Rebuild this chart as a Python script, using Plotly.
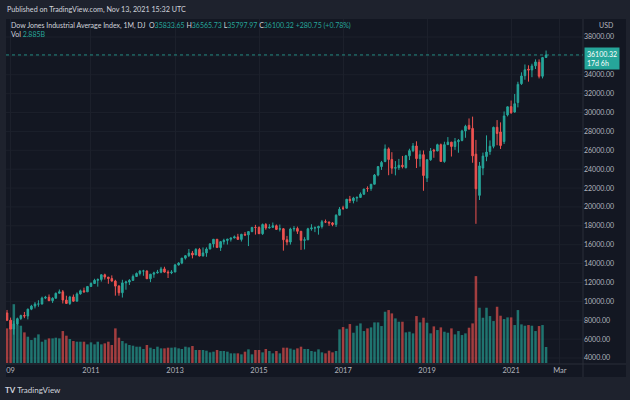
import pandas as pd
import plotly.graph_objects as go

# ---------------- data (monthly DJIA, Jan 2009 .. Nov 2021) ----------------
months = pd.date_range("2009-01-01", periods=155, freq="MS")

opens = [
 8772, 8001, 7063, 7609, 8168, 8500, 8447, 9172, 9496, 9712, 9713, 10345,
 10430, 10067, 10325, 10857, 11009, 10137, 9774, 10466, 10015, 10788, 11118, 11006,
 11577, 11892, 12226, 12320, 12811, 12570, 12414, 12143, 11614, 10913, 11955, 12046,
 12218, 12633, 12952, 13212, 13214, 12393, 12880, 13009, 13091, 13437, 13096, 13026,
 13104, 13861, 14054, 14579, 14840, 15116, 14910, 15500, 14810, 15130, 15546, 16086,
 16577, 15699, 16322, 16458, 16581, 16717, 16827, 16563, 17098, 17043, 17391, 17828,
 17823, 17165, 18133, 17776, 17841, 18011, 17638, 17690, 16528, 16285, 17664, 17720,
 17425, 16466, 16517, 17685, 17774, 17787, 17930, 18432, 18401, 18308, 18142, 19124,
 19872, 19864, 20812, 20663, 20941, 21009, 21350, 21961, 21948, 22405, 23377, 24272,
 24809, 26149, 25029, 24103, 24163, 24416, 24161, 25415, 25965, 26458, 25116, 25538,
 23058, 24999, 26019, 25929, 26593, 24815, 26600, 26864, 26403, 26917, 27046, 28051,
 28638, 28319, 25591, 21227, 24120, 25342, 25879, 26419, 28439, 27941, 26925, 29751,
 30627, 30054, 31065, 33054, 33904, 34584, 34507, 34951, 35315, 33843, 35833.65]
highs = [
 9088, 8281, 7924, 8277, 8589, 8878, 9226, 9630, 9918, 10120, 10497, 10580,
 10730, 10432, 10930, 11258, 11205, 10594, 10584, 10720, 10948, 11246, 11451, 11625,
 12020, 12391, 12419, 12876, 12929, 12570, 12753, 12284, 11717, 12284, 12188, 12360,
 12841, 13055, 13290, 13338, 13280, 12898, 13139, 13330, 13653, 13662, 13290, 13305,
 13969, 14150, 14585, 14888, 15542, 15340, 15634, 15659, 15710, 15722, 16174, 16588,
 16589, 16398, 16631, 16632, 16736, 16978, 17152, 17153, 17350, 17395, 17895, 18103,
 17951, 18244, 18288, 18175, 18351, 18137, 18137, 17760, 16933, 17799, 17977, 17915,
 17425, 16795, 17790, 18168, 17934, 18016, 18622, 18668, 18450, 18399, 19226, 19987,
 20125, 20851, 21169, 21070, 21113, 21535, 21929, 22179, 22420, 23485, 24327, 24876,
 26617, 26307, 25800, 24858, 25086, 25403, 25512, 26167, 26769, 26952, 25980, 25980,
 25075, 26242, 26155, 26696, 26710, 26907, 27399, 26890, 27307, 27197, 28175, 28702,
 29374, 29568, 27102, 24765, 25758, 27581, 27043, 28503, 29199, 28958, 30116, 30637,
 31272, 31961, 33259, 34257, 35091, 35001, 35171, 35631, 35632, 35892, 36565.73]
lows = [
 7909, 7050, 6470, 7467, 8037, 8221, 8087, 9066, 9252, 9430, 9678, 10235,
 10042, 9835, 10324, 10857, 9774, 9757, 9614, 9937, 10015, 10711, 10929, 11006,
 11577, 11892, 11555, 12093, 12309, 11862, 12093, 10604, 10597, 10404, 11231, 11735,
 12218, 12633, 12743, 12710, 12391, 12035, 12492, 12956, 12978, 13036, 12471, 12883,
 13104, 13784, 13937, 14434, 14688, 14551, 14910, 14760, 14761, 14719, 15507, 15704,
 15699, 15341, 16017, 16015, 16334, 16675, 16552, 16334, 16916, 15855, 17320, 17068,
 17136, 17037, 17585, 17698, 17792, 17574, 17399, 15370, 15942, 16013, 17403, 17139,
 15451, 15503, 16506, 17484, 17331, 17063, 17713, 18295, 17992, 17959, 17884, 19124,
 19677, 19831, 20412, 20379, 20554, 20996, 21279, 21600, 21709, 22405, 23242, 23921,
 24741, 23360, 23509, 23345, 23922, 24081, 24077, 24965, 25804, 24122, 24268, 21713,
 22639, 24883, 25208, 25906, 24812, 24680, 26558, 25339, 26044, 25743, 26953, 27325,
 28170, 24681, 18214, 20735, 23361, 24844, 25524, 26209, 26537, 26144, 26665, 29588,
 29857, 29981, 30548, 32929, 33473, 33271, 33742, 34612, 33613, 33613, 35797.97]
closes = [
 8001, 7063, 7609, 8168, 8500, 8447, 9172, 9496, 9712, 9713, 10345, 10428,
 10067, 10325, 10857, 11009, 10137, 9774, 10466, 10015, 10788, 11118, 11006, 11578,
 11892, 12226, 12320, 12811, 12570, 12414, 12143, 11614, 10913, 11955, 12046, 12218,
 12633, 12952, 13212, 13214, 12393, 12880, 13009, 13091, 13437, 13096, 13026, 13104,
 13861, 14054, 14579, 14840, 15116, 14910, 15500, 14810, 15130, 15546, 16086, 16577,
 15699, 16322, 16458, 16581, 16717, 16827, 16563, 17098, 17043, 17391, 17828, 17823,
 17165, 18133, 17776, 17841, 18011, 17620, 17690, 16528, 16285, 17664, 17720, 17425,
 16466, 16517, 17685, 17774, 17787, 17930, 18432, 18401, 18308, 18142, 19124, 19763,
 19864, 20812, 20663, 20941, 21009, 21350, 21891, 21948, 22405, 23377, 24272, 24719,
 26149, 25029, 24103, 24163, 24416, 24271, 25415, 25965, 26458, 25116, 25538, 23327,
 24999, 25916, 25929, 26593, 24815, 26600, 26864, 26403, 26917, 27046, 28051, 28538,
 28256, 25409, 21917, 24346, 25383, 25813, 26428, 28430, 27782, 26502, 29639, 30606,
 29983, 30932, 32982, 33875, 34529, 34503, 34935, 35361, 33844, 35819.57, 36100.32]
volume_b = [
 6.24, 7.74, 10.6, 6.96, 6.72, 5.52, 4.74, 4.14, 4.56, 5.16, 3.84, 4.2,
 4.44, 4.44, 4.56, 4.44, 5.76, 4.92, 4.32, 3.96, 3.84, 3.84, 3.84, 3.36,
 3.72, 3.36, 3.84, 3.36, 3.54, 3.84, 3.24, 6.24, 4.56, 3.96, 3.54, 3.24,
 3.12, 2.94, 2.94, 2.52, 3.24, 2.76, 2.52, 2.94, 2.64, 2.64, 2.76, 2.76,
 2.82, 2.64, 2.52, 2.94, 2.82, 3.06, 2.34, 2.34, 2.34, 2.22, 1.92, 2.04,
 2.34, 2.16, 2.16, 2.04, 1.74, 1.74, 1.74, 1.56, 2.04, 2.46, 1.56, 2.34,
 2.34, 1.92, 2.52, 2.16, 1.74, 2.16, 1.74, 2.76, 2.76, 2.6, 2.4, 2.64,
 2.94, 2.52, 2.52, 2.16, 2.04, 2.46, 1.92, 1.74, 2.22, 1.92, 2.16, 6.06,
 6.48, 6.18, 7.02, 5.46, 6.72, 7.14, 5.76, 6.24, 6.42, 7.32, 7.32, 6.66,
 9.24, 9.54, 8.94, 8.04, 7.44, 7.44, 5.52, 5.64, 5.34, 8.46, 7.32, 8.16,
 7.26, 5.34, 6.6, 5.94, 6.42, 5.64, 5.46, 6.24, 5.16, 5.76, 5.04, 5.34,
 6.36, 7.14, 15.66, 9.96, 8.16, 9.96, 8.46, 7.56, 10.14, 8.52, 7.92, 8.22,
 8.22, 6.84, 9.54, 6.96, 6.72, 6.84, 6.72, 5.76, 6.66, 6.84, 2.885]

tick_dates = ["2009-02-01", "2011-01-01", "2013-01-01", "2015-01-01", "2017-01-01",
              "2019-01-01", "2021-01-01", "2022-03-01"]
tick_text = ["09", "2011", "2013", "2015", "2017", "2019", "2021", "Mar"]
price_ticks = [4000, 6000, 8000, 10000, 12000, 14000, 16000, 18000, 20000, 22000,
               24000, 26000, 28000, 30000, 32000, 34000, 38000]
grid_levels = list(range(4000, 40000, 2000))

UP, DOWN = "#26a69a", "#ef5350"
VOL_UP, VOL_DOWN = "rgba(38,166,154,0.65)", "rgba(239,83,80,0.65)"
TXT = "#b2b5be"
FONT = "Lato, Noto Sans, sans-serif"

vol_colors = [VOL_UP if c >= o else VOL_DOWN for o, c in zip(opens, closes)]

fig = go.Figure()
fig.add_trace(go.Bar(x=months, y=volume_b, marker_color=vol_colors, marker_line_width=0,
                     yaxis="y", showlegend=False))
fig.add_trace(go.Candlestick(
    x=months, open=opens, high=highs, low=lows, close=closes, yaxis="y2",
    increasing=dict(line=dict(color=UP, width=1), fillcolor=UP),
    decreasing=dict(line=dict(color=DOWN, width=1), fillcolor=DOWN),
    whiskerwidth=0, showlegend=False))

last = closes[-1]
chg = closes[-1] - closes[-2]
pct = chg / closes[-2] * 100

fig.update_layout(
    width=630, height=400,
    margin=dict(l=6, r=47, t=19, b=36),
    paper_bgcolor="#1e222d", plot_bgcolor="#131722",
    font=dict(family=FONT, color=TXT, size=8),
    bargap=0.22,
    showlegend=False,
    xaxis=dict(type="date", range=["2008-12-23", "2022-09-18"],
               tickvals=tick_dates, ticktext=tick_text, ticks="",
               showgrid=True, gridcolor="#1c202b", gridwidth=1,
               zeroline=False, showline=False,
               rangeslider=dict(visible=False),
               tickfont=dict(size=7.5, color=TXT)),
    yaxis=dict(range=[-0.18, 62], visible=False, showgrid=False, fixedrange=True),
    yaxis2=dict(overlaying="y", side="right", range=[3364, 39907],
                tickvals=price_ticks, tickformat=".2f", ticks="",
                showgrid=False, zeroline=False,
                tickfont=dict(size=7, color=TXT)),
)

# panel background & separators
fig.add_shape(type="rect", xref="paper", yref="paper", x0=0, x1=620/577, y0=-13/345, y1=1,
              fillcolor="#131722", line_width=0, layer="below")
for lv in grid_levels:
    fig.add_shape(type="line", xref="paper", yref="y2", x0=0, x1=1, y0=lv, y1=lv,
                  line=dict(color="#1c202b", width=1), layer="below")
fig.add_shape(type="line", xref="paper", yref="paper", x0=1, x1=1, y0=-13/345, y1=1,
              line=dict(color="#2a2e39", width=1))
fig.add_shape(type="line", xref="paper", yref="paper", x0=0, x1=620/577, y0=0, y1=0,
              line=dict(color="#2a2e39", width=1))
# last price dotted line
fig.add_shape(type="line", xref="paper", yref="y2", x0=0, x1=1, y0=last, y1=last,
              line=dict(color=UP, width=1, dash="dot"), opacity=0.8)

# last price label
fig.add_annotation(xref="paper", yref="y2", x=1.0, y=last, xanchor="left", yanchor="middle",
                   xshift=1, yshift=-4,
                   text=f"{last:.2f}<br>17d 6h", showarrow=False, align="left",
                   bgcolor=UP, borderpad=2, font=dict(size=7, color="#ffffff"))
fig.add_annotation(xref="paper", yref="paper", x=1.0, y=1, xanchor="left", yanchor="middle",
                   xshift=14, yshift=-6, text="USD", showarrow=False,
                   font=dict(size=7, color=TXT))

# header & legend
fig.add_annotation(xref="paper", yref="paper", x=0, y=1, xanchor="left", yanchor="middle",
                   xshift=-1, yshift=10,
                   text="Published on TradingView.com, Nov 13, 2021 15:32 UTC",
                   showarrow=False, font=dict(size=7.2, color="#d1d4dc"))
g = UP
leg = (f"Dow Jones Industrial Average Index, 1M, DJ  "
       f"O<span style='color:{g}'>{opens[-1]:.2f}</span> "
       f"H<span style='color:{g}'>{highs[-1]:.2f}</span> "
       f"L<span style='color:{g}'>{lows[-1]:.2f}</span> "
       f"C<span style='color:{g}'>{closes[-1]:.2f}</span> "
       f"<span style='color:{g}'>+{chg:.2f} (+{pct:.2f}%)</span>")
fig.add_annotation(xref="paper", yref="paper", x=0, y=1, xanchor="left", yanchor="middle",
                   xshift=3, yshift=-6, text=leg, showarrow=False,
                   font=dict(size=7, color="#d1d4dc"))
fig.add_annotation(xref="paper", yref="paper", x=0, y=1, xanchor="left", yanchor="middle",
                   xshift=3, yshift=-15,
                   text=f"Vol <span style='color:{g}'>{volume_b[-1]:.3f}B</span>",
                   showarrow=False, font=dict(size=7, color="#d1d4dc"))
# logo
fig.add_annotation(xref="paper", yref="paper", x=0, y=0, xanchor="left", yanchor="middle",
                   xshift=-3, yshift=-26,
                   text="<b>TV</b> TradingView", showarrow=False,
                   font=dict(size=8, color="#d1d4dc"))

fig.write_html("out.html", config={"displayModeBar": False},
               post_script="document.body.style.margin='0';")
